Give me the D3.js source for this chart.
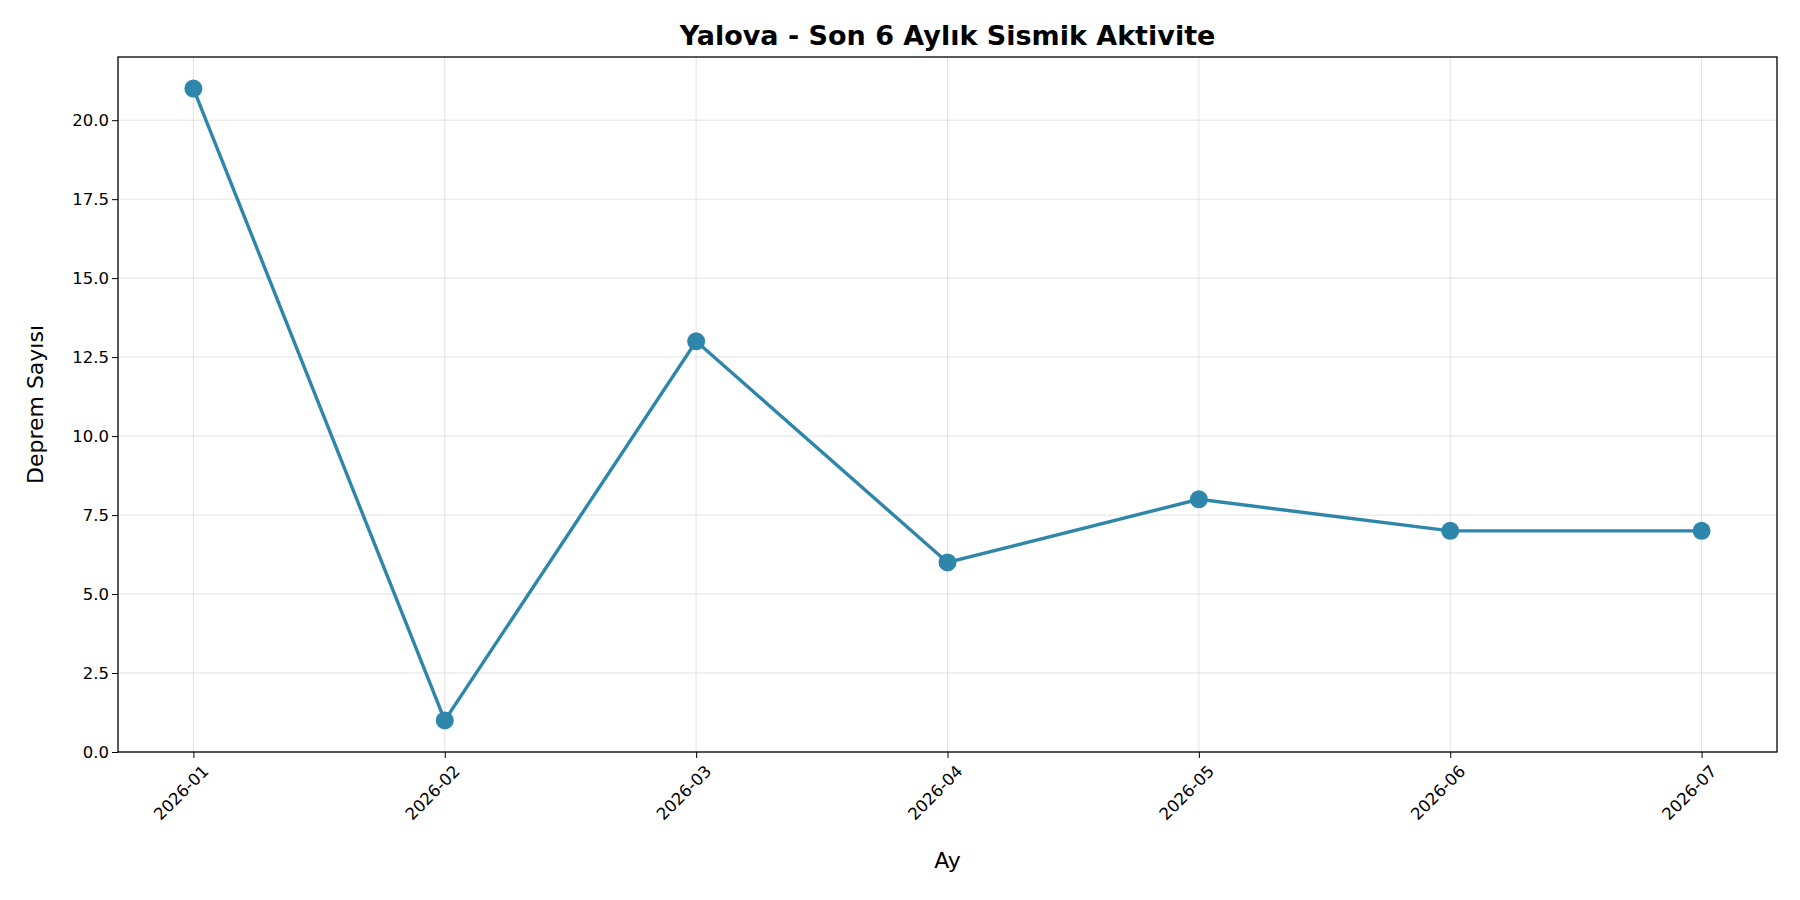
<!DOCTYPE html>
<html><head><meta charset="utf-8">
<script src="https://cdn.jsdelivr.net/npm/d3@7"></script>
<style>body{margin:0;background:#fff}</style></head>
<body><svg id="c" width="1800" height="900"></svg>
<script>
const months = ["2026-01","2026-02","2026-03","2026-04","2026-05","2026-06","2026-07"];
const counts = [21,1,13,6,8,7,7];
const yTicks = [0,2.5,5,7.5,10,12.5,15,17.5,20];

const svg = d3.select("#c");
const L=118,R=1777,T=57,B=752;
const x = d3.scaleLinear().domain([-0.3,6.3]).range([L,R]);
const y = d3.scaleLinear().domain([0,22]).range([B,T]);
const font="DejaVu Sans, sans-serif";

svg.append("g").selectAll("line").data(months).join("line")
 .attr("x1",(d,i)=>x(i)).attr("x2",(d,i)=>x(i)).attr("y1",T).attr("y2",B)
 .attr("stroke","#b0b0b0").attr("stroke-opacity",0.35).attr("stroke-width",1);
svg.append("g").selectAll("line").data(yTicks).join("line")
 .attr("x1",L).attr("x2",R).attr("y1",d=>y(d)).attr("y2",d=>y(d))
 .attr("stroke","#b0b0b0").attr("stroke-opacity",0.35).attr("stroke-width",1);

const xa = svg.append("g").attr("transform",`translate(0,${B})`)
 .call(d3.axisBottom(x).tickValues(d3.range(months.length)).tickFormat(i=>months[i]).tickSize(6).tickSizeOuter(0));
xa.selectAll("text").attr("font-family",font).attr("font-size",16.5).attr("fill","#000")
 .attr("text-anchor","end").attr("transform","rotate(-45)").attr("dx","-0.2em").attr("dy","1.0em");
const ya = svg.append("g").attr("transform",`translate(${L},0)`)
 .call(d3.axisLeft(y).tickValues(yTicks).tickFormat(d3.format(".1f")).tickSize(6).tickSizeOuter(0));
ya.selectAll("text").attr("font-family",font).attr("font-size",16.5).attr("fill","#000");
svg.selectAll(".domain").remove();
svg.append("rect").attr("x",L).attr("y",T).attr("width",R-L).attr("height",B-T)
 .attr("fill","none").attr("stroke","#000").attr("stroke-width",1.3);

svg.append("path").datum(counts)
 .attr("d",d3.line().x((d,i)=>x(i)).y(d=>y(d)))
 .attr("fill","none").attr("stroke","#2e86ab").attr("stroke-width",3.4);
svg.append("g").selectAll("circle").data(counts).join("circle")
 .attr("cx",(d,i)=>x(i)).attr("cy",d=>y(d)).attr("r",9).attr("fill","#2e86ab");

svg.append("text").attr("x",(L+R)/2).attr("y",45).attr("text-anchor","middle")
 .attr("font-family",font).attr("font-size",27).attr("font-weight","bold").text("Yalova - Son 6 Aylık Sismik Aktivite");
svg.append("text").attr("x",(L+R)/2).attr("y",868).attr("text-anchor","middle")
 .attr("font-family",font).attr("font-size",22).text("Ay");
svg.append("text").attr("transform",`translate(43,${(T+B)/2}) rotate(-90)`).attr("text-anchor","middle")
 .attr("font-family",font).attr("font-size",22).text("Deprem Sayısı");
</script></body></html>
